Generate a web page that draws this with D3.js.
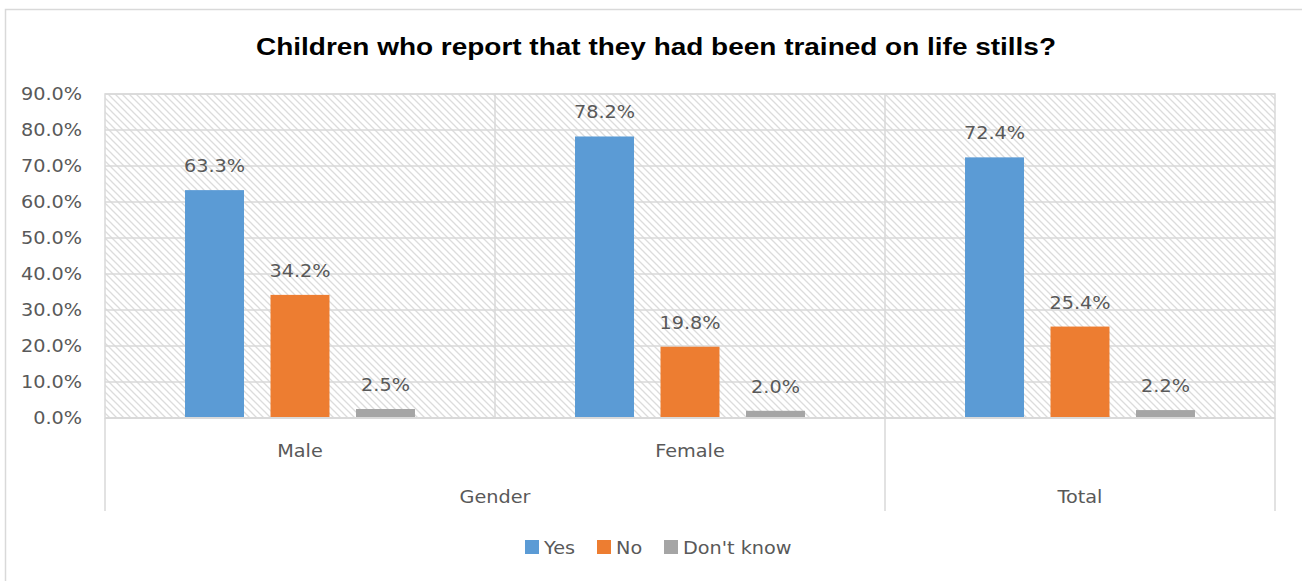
<!DOCTYPE html>
<html>
<head>
<meta charset="utf-8">
<script src="https://cdn.jsdelivr.net/npm/d3@7"></script>
<style>
  html, body { margin: 0; padding: 0; background: #ffffff; }
  svg { display: block; }
  text { font-family: "DejaVu Sans", sans-serif; fill: #595959; }
</style>
</head>
<body>
<svg id="chart" width="1302" height="581"></svg>
<script>
// Chart data
const categories = ["Male", "Female", "Total"];
const groupLabels = [
  { label: "Gender", members: ["Male", "Female"] },
  { label: "Total", members: ["Total"] }
];
const seriesNames = ["Yes", "No", "Don't know"];
const yesValues = [0.633, 0.782, 0.724];
const noValues = [0.342, 0.198, 0.254];
const dontKnowValues = [0.025, 0.020, 0.022];
const seriesColors = ["#5b9bd5", "#ed7d31", "#a5a5a5"];
const yTicks = [0, 0.1, 0.2, 0.3, 0.4, 0.5, 0.6, 0.7, 0.8, 0.9];
const titleText = "Children who report that they had been trained on life stills?";

const seriesValues = [yesValues, noValues, dontKnowValues];

const svg = d3.select("#chart");
const plot = { left: 105, right: 1275, top: 94, bottom: 418 };
const gridColor = "#d9d9d9";
const fontSize = 17.5;
const stretch = 1.1;   // slightly widened lettering

// Places a text element at (x, y) with horizontal widening
function place(sel, fx, fy) {
  sel.attr("x", 0).attr("y", 0)
    .attr("transform", (d, i) => `translate(${fx(d, i)},${fy(d, i)}) scale(${stretch},1)`);
}

// Outer chart frame
svg.append("rect")
  .attr("x", 5.5).attr("y", 9.5)
  .attr("width", 1320).attr("height", 620)
  .attr("fill", "#ffffff")
  .attr("stroke", gridColor).attr("stroke-width", 1.5);

// Diagonal hatch fill for the plot area
const defs = svg.append("defs");
const pat = defs.append("pattern")
  .attr("id", "hatch")
  .attr("patternUnits", "userSpaceOnUse")
  .attr("width", 7).attr("height", 7);
pat.append("rect").attr("width", 7).attr("height", 7).attr("fill", "#ffffff");
pat.append("path")
  .attr("d", "M-1,-1 L8,8 M-1,6 L1,8 M6,-1 L8,1")
  .attr("stroke", "#dcdcdc").attr("stroke-width", 1.3);

// Scales
const x0 = d3.scaleBand().domain(categories).range([plot.left, plot.right]).padding(0);
const x1 = d3.scaleBand().domain(seriesNames).range([0, x0.bandwidth()])
  .paddingInner(0.31).paddingOuter(0.936);
const y = d3.scaleLinear().domain([0, 0.9]).range([plot.bottom, plot.top]);

// Plot background
svg.append("rect")
  .attr("x", plot.left).attr("y", plot.top)
  .attr("width", plot.right - plot.left).attr("height", plot.bottom - plot.top)
  .attr("fill", "url(#hatch)");

// Horizontal gridlines
svg.append("g")
  .selectAll("line")
  .data(yTicks)
  .join("line")
  .attr("x1", plot.left).attr("x2", plot.right)
  .attr("y1", d => y(d)).attr("y2", d => y(d))
  .attr("stroke", gridColor).attr("stroke-width", 1.5);

// Vertical category separators inside the plot
svg.append("g")
  .selectAll("line")
  .data(categories.slice(1))
  .join("line")
  .attr("x1", d => x0(d)).attr("x2", d => x0(d))
  .attr("y1", plot.top).attr("y2", plot.bottom)
  .attr("stroke", gridColor).attr("stroke-width", 1.5);

// Plot area border
svg.append("rect")
  .attr("x", plot.left).attr("y", plot.top)
  .attr("width", plot.right - plot.left).attr("height", plot.bottom - plot.top)
  .attr("fill", "none").attr("stroke", gridColor).attr("stroke-width", 1.5);

// Y axis labels
const yAxis = d3.axisLeft(y).tickValues(yTicks).tickFormat(d3.format(".1%")).tickSize(0);
const yg = svg.append("g").call(yAxis);
yg.select(".domain").remove();
yg.selectAll(".tick").attr("transform", null);
yg.selectAll(".tick text")
  .attr("font-size", fontSize).attr("fill", "#595959")
  .attr("dy", "0.35em")
  .style("font-family", "DejaVu Sans, sans-serif")
  .call(place, () => 82, d => y(d));

// Bars
const groups = svg.append("g")
  .selectAll("g")
  .data(categories)
  .join("g")
  .attr("transform", d => `translate(${x0(d)},0)`);

groups.selectAll("rect")
  .data((c, ci) => seriesNames.map((s, si) => ({ s, si, v: seriesValues[si][ci] })))
  .join("rect")
  .attr("x", d => x1(d.s))
  .attr("width", x1.bandwidth())
  .attr("y", d => y(d.v))
  .attr("height", d => y(0) - y(d.v))
  .attr("fill", d => seriesColors[d.si]);

// Data labels
groups.selectAll("text")
  .data((c, ci) => seriesNames.map((s, si) => ({ s, si, v: seriesValues[si][ci] })))
  .join("text")
  .attr("text-anchor", "middle")
  .attr("font-size", fontSize)
  .text(d => d3.format(".1%")(d.v))
  .call(place, d => x1(d.s) + x1.bandwidth() / 2, d => y(d.v) - 18);

// Category axis baseline
svg.append("line")
  .attr("x1", plot.left).attr("x2", plot.right)
  .attr("y1", plot.bottom).attr("y2", plot.bottom)
  .attr("stroke", gridColor).attr("stroke-width", 2);

// Inner category labels
svg.append("g")
  .selectAll("text")
  .data(categories.filter(c => groupLabels.some(g => g.members.length > 1 && g.members.includes(c))))
  .join("text")
  .attr("text-anchor", "middle")
  .attr("font-size", fontSize)
  .text(d => d)
  .call(place, d => x0(d) + x0.bandwidth() / 2, () => 457);

// Outer group labels and their dividers
const groupExtent = g => [x0(g.members[0]), x0(g.members[g.members.length - 1]) + x0.bandwidth()];
svg.append("g")
  .selectAll("text")
  .data(groupLabels)
  .join("text")
  .attr("text-anchor", "middle")
  .attr("font-size", fontSize)
  .text(g => g.label)
  .call(place, g => d3.mean(groupExtent(g)), () => 503);

const dividers = [plot.left].concat(groupLabels.map(g => groupExtent(g)[1]));
svg.append("g")
  .selectAll("line")
  .data(dividers)
  .join("line")
  .attr("x1", d => d).attr("x2", d => d)
  .attr("y1", plot.bottom).attr("y2", 511)
  .attr("stroke", gridColor).attr("stroke-width", 1.5);

// Title
svg.append("text")
  .attr("x", 656).attr("y", 55)
  .attr("text-anchor", "middle")
  .attr("font-size", 23)
  .attr("font-weight", "bold")
  .attr("textLength", 800)
  .attr("lengthAdjust", "spacingAndGlyphs")
  .style("font-family", "Liberation Sans, Arial, sans-serif")
  .style("fill", "#000000")
  .text(titleText);

// Legend
const legendX = [525, 597, 664];
const legend = svg.append("g")
  .selectAll("g")
  .data(seriesNames)
  .join("g")
  .attr("transform", (d, i) => `translate(${legendX[i]},540)`);
legend.append("rect")
  .attr("width", 14).attr("height", 14)
  .attr("fill", (d, i) => seriesColors[i]);
legend.append("text")
  .attr("font-size", fontSize)
  .text(d => d)
  .call(place, () => 19, () => 14);
</script>
</body>
</html>
